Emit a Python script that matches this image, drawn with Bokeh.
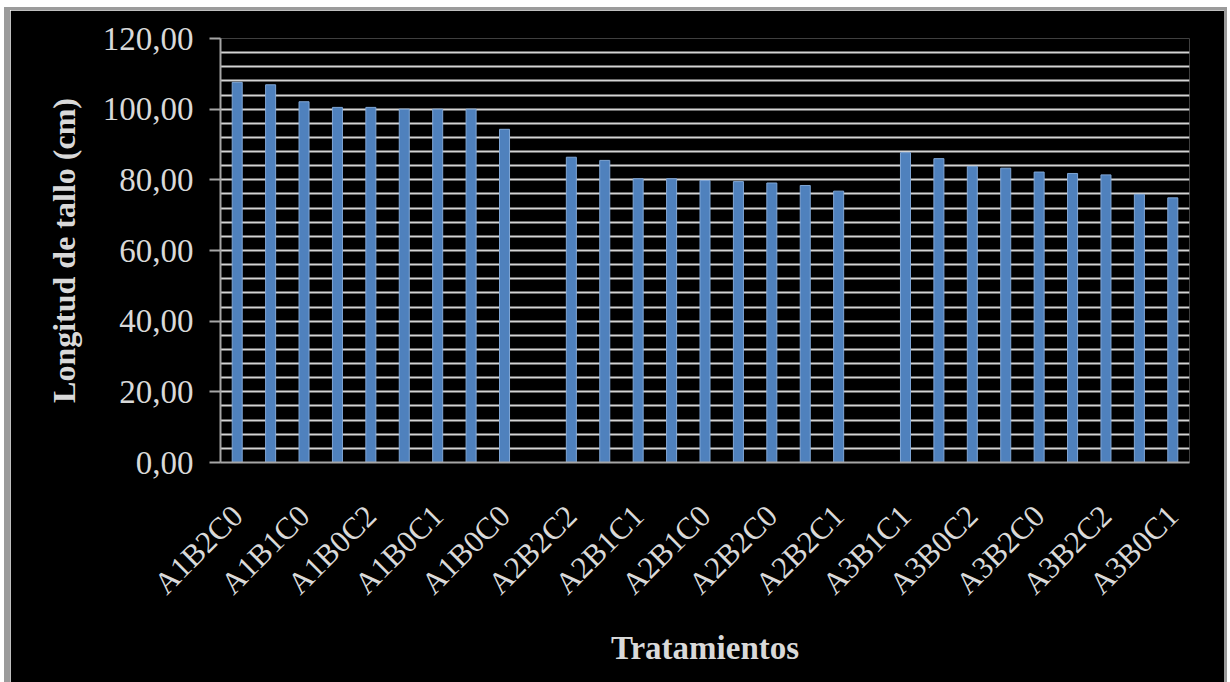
from bokeh.plotting import figure
from bokeh.layouts import column
from bokeh.models import ColumnDataSource, FixedTicker, Range1d
from bokeh.embed import file_html
from bokeh.resources import INLINE

# Stem length per treatment slot (None = spacer between A1/A2/A3 groups)
values = [
    107.6, 106.9, 102.1, 100.5, 100.5, 100.0, 100.0, 100.0, 94.3,
    None,
    86.4, 85.5, 80.3, 80.3, 79.8, 79.5, 79.1, 78.4, 76.8,
    None,
    87.7, 86.0, 83.8, 83.3, 82.2, 81.8, 81.4, 75.9, 74.9,
]

# Labels shown on every second slot
tick_labels = [
    "A1B2C0", "A1B1C0", "A1B0C2", "A1B0C1", "A1B0C0",
    "A2B2C2", "A2B1C1", "A2B1C0", "A2B2C0", "A2B2C1",
    "A3B1C1", "A3B0C2", "A3B2C0", "A3B2C2", "A3B0C1",
]

y_major = [0, 20, 40, 60, 80, 100, 120]
y_grid = list(range(0, 121, 4))

xs = [i for i, v in enumerate(values) if v is not None]
tops = [v for v in values if v is not None]
src = ColumnDataSource(dict(x=xs, top=tops))

FONT = "Liberation Serif"
TXT = "#d9d9d9"

p = figure(
    width=1214, height=672,
    x_range=Range1d(-0.5, len(values) - 0.5),
    y_range=Range1d(0, 120),
    output_backend="svg", toolbar_location=None,
    background_fill_color="black", border_fill_color="black",
    min_border_left=210, min_border_right=35,
    min_border_top=28, min_border_bottom=220,
)
p.outline_line_color = None

p.vbar(x="x", top="top", width=0.3, source=src,
       fill_color="#4F81BD", line_color="#7FA6D6", line_width=1)

# horizontal grid every 4 units
p.xgrid.visible = False
p.ygrid.ticker = FixedTicker(ticks=y_grid)
p.ygrid.grid_line_color = "#d4d4d4"
p.ygrid.grid_line_width = 2

# y axis
ya = p.yaxis[0]
ya.ticker = FixedTicker(ticks=y_major, minor_ticks=[])
ya.major_label_overrides = {t: f"{t},00" for t in y_major}
ya.axis_line_color = "#a6a6a6"
ya.axis_line_width = 2
ya.major_tick_line_color = "#a6a6a6"
ya.major_tick_line_width = 2
ya.major_tick_out = 11
ya.major_tick_in = 0
ya.minor_tick_line_color = None
ya.major_label_standoff = 16
ya.major_label_text_font = FONT
ya.major_label_text_font_size = "33px"
ya.major_label_text_color = TXT
ya.axis_label = "Longitud de tallo (cm)"
ya.axis_label_text_font = FONT
ya.axis_label_text_font_size = "32px"
ya.axis_label_text_font_style = "bold"
ya.axis_label_text_color = TXT
ya.axis_label_standoff = 18

# x axis
xa = p.xaxis[0]
label_pos = list(range(0, len(values), 2))
xa.ticker = FixedTicker(ticks=label_pos, minor_ticks=[])
xa.major_label_overrides = {pos: lab for pos, lab in zip(label_pos, tick_labels)}
xa.major_label_orientation = 0.785398
xa.axis_line_color = "#a6a6a6"
xa.axis_line_width = 2
xa.major_tick_line_color = None
xa.minor_tick_line_color = None
xa.major_label_standoff = 42
xa.major_label_text_font = FONT
xa.major_label_text_font_size = "31px"
xa.major_label_text_color = TXT
xa.axis_label = "Tratamientos"
xa.axis_label_text_font = FONT
xa.axis_label_text_font_size = "33px"
xa.axis_label_text_font_style = "bold"
xa.axis_label_text_color = TXT
xa.axis_label_standoff = 14

root = column(p, styles={
    "margin-left": "4px", "margin-top": "7px",
    "border-left": "6px solid #9b9b9b",
    "border-top": "3px solid #9b9b9b",
    "border-right": "3px solid #9b9b9b",
})

open("out.html", "w").write(file_html(root, INLINE))
